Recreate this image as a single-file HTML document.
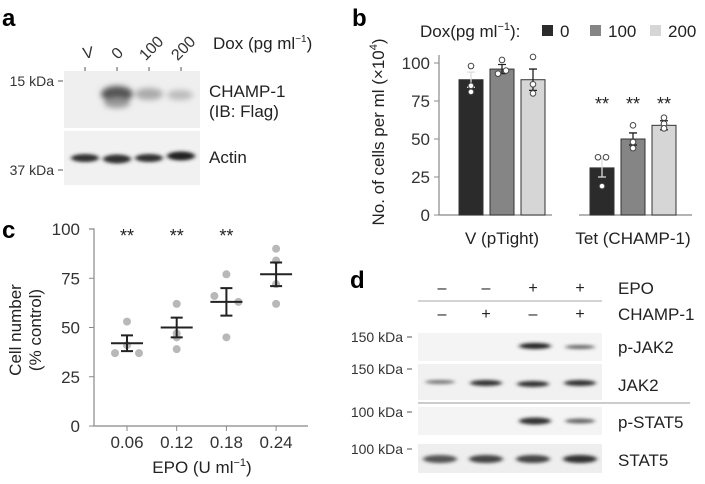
<!DOCTYPE html>
<html><head><meta charset="utf-8"><style>
body{margin:0;background:#fff;}
svg{display:block;font-family:"Liberation Sans",sans-serif;}
</style></head><body>
<svg width="705" height="484" viewBox="0 0 705 484">
<defs>
<filter id="bl" x="-20%" y="-100%" width="140%" height="300%"><feGaussianBlur stdDeviation="2.2 1.6"/></filter>
<filter id="bl2" x="-20%" y="-100%" width="140%" height="300%"><feGaussianBlur stdDeviation="3 3"/></filter>
</defs>

<text x="2" y="26" font-size="24" font-weight="bold">a</text>
<text x="352" y="26" font-size="24" font-weight="bold">b</text>
<text x="2" y="238" font-size="24" font-weight="bold">c</text>
<text x="350" y="288" font-size="24" font-weight="bold">d</text>

<g>
 <text x="213" y="49" font-size="17" fill="#222">Dox (pg ml<tspan font-size="10" dy="-7">−1</tspan><tspan dy="7">)</tspan></text>
 <g font-size="16" fill="#333">
  <text transform="translate(89,58) rotate(-10)" text-anchor="middle">V</text>
  <text transform="translate(121,57) rotate(-45)" text-anchor="middle">0</text>
  <text transform="translate(155,52) rotate(-45)" text-anchor="middle">100</text>
  <text transform="translate(187,52) rotate(-45)" text-anchor="middle">200</text>
 </g>
 <g stroke="#555" stroke-width="1">
  <line x1="85" y1="67" x2="85" y2="72"/><line x1="117" y1="67" x2="117" y2="72"/>
  <line x1="149" y1="67" x2="149" y2="72"/><line x1="181" y1="67" x2="181" y2="72"/>
  <line x1="58" y1="81" x2="63" y2="81"/><line x1="58" y1="170" x2="63" y2="170"/>
 </g>
 <text x="54" y="86" font-size="14" text-anchor="end" fill="#333">15 kDa</text>
 <text x="54" y="175" font-size="14" text-anchor="end" fill="#333">37 kDa</text>
 <rect x="64" y="71" width="136" height="57" fill="#efefef"/>
 <rect x="64" y="131" width="136" height="54" fill="#f1f1f1"/>
 <g filter="url(#bl2)">
  <ellipse cx="117" cy="94" rx="16" ry="8" fill="#555"/>
  <ellipse cx="117" cy="103" rx="13" ry="5" fill="#999"/>
  <ellipse cx="149" cy="94" rx="14" ry="6" fill="#aaa"/>
  <ellipse cx="180" cy="95" rx="13" ry="5" fill="#bbb"/>
 </g>
 <g filter="url(#bl)">
  <ellipse cx="85" cy="158" rx="14" ry="4" fill="#333"/>
  <ellipse cx="117" cy="159" rx="14" ry="4.5" fill="#333"/>
  <ellipse cx="149" cy="158" rx="14" ry="4" fill="#333"/>
  <ellipse cx="181" cy="156" rx="14" ry="4.5" fill="#222"/>
 </g>
 <text x="209" y="97" font-size="17" fill="#222">CHAMP-1</text>
 <text x="209" y="117" font-size="17" fill="#222">(IB: Flag)</text>
 <text x="209" y="163" font-size="17" fill="#222">Actin</text>
</g>

<g id="chartB"></g>
<g id="chartC"></g>

<g fill="#222">
 <g font-size="16" text-anchor="middle">
  <text x="442" y="293">–</text><text x="486" y="293">–</text><text x="533" y="293">+</text><text x="580" y="293">+</text>
  <text x="442" y="319">–</text><text x="486" y="319">+</text><text x="533" y="319">–</text><text x="580" y="319">+</text>
 </g>
 <line x1="418" y1="301" x2="602" y2="301" stroke="#bbb" stroke-width="1.2"/>
 <text x="618" y="294" font-size="17">EPO</text>
 <text x="618" y="320" font-size="17">CHAMP-1</text>
 <g font-size="14" text-anchor="end" fill="#333">
  <text x="403" y="342">150 kDa</text><text x="403" y="374">150 kDa</text>
  <text x="403" y="417">100 kDa</text><text x="403" y="454">100 kDa</text>
 </g>
 <g stroke="#555"><line x1="407" y1="337" x2="412" y2="337"/><line x1="407" y1="369" x2="412" y2="369"/><line x1="407" y1="412" x2="412" y2="412"/><line x1="407" y1="449" x2="412" y2="449"/></g>
 <rect x="418" y="333" width="184" height="28" fill="#f4f4f4"/>
 <rect x="418" y="364" width="184" height="36" fill="#f1f1f1"/>
 <line x1="418" y1="403" x2="690" y2="403" stroke="#999" stroke-width="1"/>
 <rect x="418" y="407" width="184" height="28" fill="#f4f4f4"/>
 <rect x="418" y="444" width="184" height="29" fill="#eeeeee"/>
 <g filter="url(#bl)">
  <ellipse cx="535" cy="346" rx="16" ry="3" fill="#222"/>
  <ellipse cx="580" cy="347" rx="15" ry="2" fill="#666"/>
  <ellipse cx="440" cy="382" rx="15" ry="2" fill="#777"/>
  <ellipse cx="486" cy="383" rx="16" ry="3" fill="#333"/>
  <ellipse cx="533" cy="384" rx="16" ry="3" fill="#333"/>
  <ellipse cx="580" cy="383" rx="16" ry="3" fill="#333"/>
  <ellipse cx="535" cy="421" rx="16" ry="3.5" fill="#333"/>
  <ellipse cx="580" cy="421" rx="15" ry="2.5" fill="#666"/>
  <ellipse cx="440" cy="459" rx="17" ry="4" fill="#555"/>
  <ellipse cx="486" cy="459" rx="17" ry="4" fill="#444"/>
  <ellipse cx="533" cy="459" rx="17" ry="4" fill="#444"/>
  <ellipse cx="580" cy="459" rx="17" ry="4" fill="#333"/>
 </g>
 <g font-size="17">
  <text x="618" y="353">p-JAK2</text><text x="618" y="391">JAK2</text>
  <text x="618" y="428">p-STAT5</text><text x="618" y="466">STAT5</text>
 </g>
</g>
</svg>
<script>
const bGroups = ["V (pTight)", "Tet (CHAMP-1)"];
const bDose = ["0", "100", "200"];
const bMeans = [[89, 96, 89], [31, 50, 59]];
const bErr = [[5, 3, 7], [6, 4, 3]];
const bDots = [[[98, 85, 81], [102, 95, 93], [104, 86, 80]], [[38, 38, 19], [59, 48, 44], [64, 60, 57]]];
const bTicks = [0, 25, 50, 75, 100];
const bStars = [[false, false, false], [true, true, true]];
const cCats = ["0.06", "0.12", "0.18", "0.24"];
const cMeans = [42, 50, 63, 77];
const cErr = [4, 5, 7, 6];
const cDots = [[53, 41, 37, 37], [62, 47, 39, 45], [77, 66, 63, 45], [90, 84, 72, 62]];
const cTicks = [0, 25, 50, 75, 100];
const cStars = [true, true, true, false];

const NS = "http://www.w3.org/2000/svg";
function mk(parent, tag, attrs, txt) {
  const e = document.createElementNS(NS, tag);
  for (const k in attrs) e.setAttribute(k, attrs[k]);
  if (txt !== undefined) e.textContent = txt;
  parent.appendChild(e);
  return e;
}
(function () {
  const g = document.getElementById("chartB");
  const y = v => 215 - v * 1.52;
  const groupX = [459, 590];
  const bw = 24, step = 31;
  const fills = ["#2b2b2b", "#858585", "#d6d6d6"];
  const lt = mk(g, "text", { x: 420, y: 37, "font-size": 17, fill: "#222" }, "Dox(pg ml");
  
  
  mk(lt, "tspan", { "font-size": 11, dy: -7 }, "−1");
  mk(lt, "tspan", { dy: 7 }, "):");
  const legX = [542, 590, 650];
  bDose.forEach((d, i) => {
    const r = mk(g, "rect", { x: legX[i], y: 25, width: 11, height: 11, fill: fills[i] });
    
    
    const t = mk(g, "text", { x: legX[i] + 18, y: 37, "font-size": 17, fill: "#222" }, d);
    
    
  });
  const ax = mk(g, "line", { x1: 439, y1: y(100) - 8, x2: 439, y2: y(0), stroke: "#888", "stroke-width": 1.2 });
  
  
  bTicks.forEach(v => {
    mk(g, "line", { x1: 434, x2: 439, y1: y(v), y2: y(v), stroke: "#888" });
    const t = mk(g, "text", { x: 430, y: y(v) + 6, "font-size": 17, "text-anchor": "end", fill: "#333" }, v);
    
    
  });
  const yt = mk(g, "text", { transform: "translate(384,132) rotate(-90)", "font-size": 17, "text-anchor": "middle", fill: "#222" }, "No. of cells per ml (×10");
  
  
  mk(yt, "tspan", { "font-size": 11, dy: -7 }, "4");
  mk(yt, "tspan", { dy: 7 }, ")");
  bGroups.forEach((gn, gi) => {
    const x0 = groupX[gi];
    mk(g, "line", { x1: gi ? 579 : 439, x2: gi ? 692 : 552, y1: y(0), y2: y(0), stroke: "#888", "stroke-width": 1.2 });
    const gl = mk(g, "text", { x: x0 + step + bw / 2, y: 244, "font-size": 17, "text-anchor": "middle", fill: "#222" }, gn);
    
    
    bDose.forEach((d, di) => {
      const bx = x0 + di * step;
      const m = bMeans[gi][di];
      const r = mk(g, "rect", { x: bx, y: y(m), width: bw, height: y(0) - y(m), fill: fills[di], stroke: "#333", "stroke-width": 1 });
      
      
      const cx = bx + bw / 2, e = bErr[gi][di];
      const eb = mk(g, "path", { d: `M${cx},${y(m - e)}V${y(m + e)}M${cx - 4},${y(m + e)}H${cx + 4}M${cx - 4},${y(m - e)}H${cx + 4}`, stroke: di === 0 ? "#ddd" : "#222", "stroke-width": 1.3, fill: "none" });
      
      
      bDots[gi][di].forEach((v, k) => {
        const c = mk(g, "circle", { cx: cx + (bDots[gi][di].filter(w => Math.abs(w - v) < 3).length > 1 ? (k % 2 ? 4 : -4) : 0), cy: y(v), r: 2.8, fill: "#fff", stroke: "#444", "stroke-width": 1 });
        
        
      });
      if (bStars[gi][di]) {
        const s = mk(g, "text", { x: cx, y: 110, "font-size": 18, "text-anchor": "middle", fill: "#222" }, "**");
        
        
      }
    });
  });
})();
(function () {
  const g = document.getElementById("chartC");
  const y = v => 426 - v * 1.97;
  const x = i => 127 + i * 49.7;
  const ax = mk(g, "path", { d: `M89,${y(100)}H94V${y(0)}H308`, stroke: "#888", "stroke-width": 1.2, fill: "none" });
  
  
  cTicks.forEach(v => {
    mk(g, "line", { x1: 89, x2: 94, y1: y(v), y2: y(v), stroke: "#888" });
    const t = mk(g, "text", { x: 80, y: y(v) + 6, "font-size": 17, "text-anchor": "end", fill: "#333" }, v);
    
    
  });
  const t1 = mk(g, "text", { transform: "translate(21,330) rotate(-90)", "font-size": 17, "text-anchor": "middle", fill: "#222" }, "Cell number");
  
  
  const t2 = mk(g, "text", { transform: "translate(41,330) rotate(-90)", "font-size": 17, "text-anchor": "middle", fill: "#222" }, "(% control)");
  
  
  const xt = mk(g, "text", { x: 202, y: 473, "font-size": 17, "text-anchor": "middle", fill: "#222" }, "EPO (U ml");
  
  
  mk(xt, "tspan", { "font-size": 11, dy: -7 }, "−1");
  mk(xt, "tspan", { dy: 7 }, ")");
  const offs = [[0, 0, -12, 12], [0, 0, 0, 0], [0, -12, 12, 0], [0, 0, 0, 0]];
  cCats.forEach((c, i) => {
    const cx = x(i);
    mk(g, "line", { x1: cx, x2: cx, y1: y(0), y2: y(0) + 5, stroke: "#888" });
    const tl = mk(g, "text", { x: cx, y: 448, "font-size": 17, "text-anchor": "middle", fill: "#333" }, c);
    
    
    cDots[i].forEach((v, k) => {
      const d = mk(g, "circle", { cx: cx + offs[i][k], cy: y(v), r: 4, fill: "#b8b8b8" });
      
      
    });
    const m = cMeans[i], e = cErr[i];
    const ml = mk(g, "path", { d: `M${cx - 16},${y(m)}H${cx + 16}M${cx},${y(m - e)}V${y(m + e)}M${cx - 6},${y(m + e)}H${cx + 6}M${cx - 6},${y(m - e)}H${cx + 6}`, stroke: "#222", "stroke-width": 2, fill: "none" });
    
    
    if (cStars[i]) {
      const s = mk(g, "text", { x: cx, y: 242, "font-size": 18, "text-anchor": "middle", fill: "#222" }, "**");
      
      
    }
  });
})();
</script>
</body></html>
